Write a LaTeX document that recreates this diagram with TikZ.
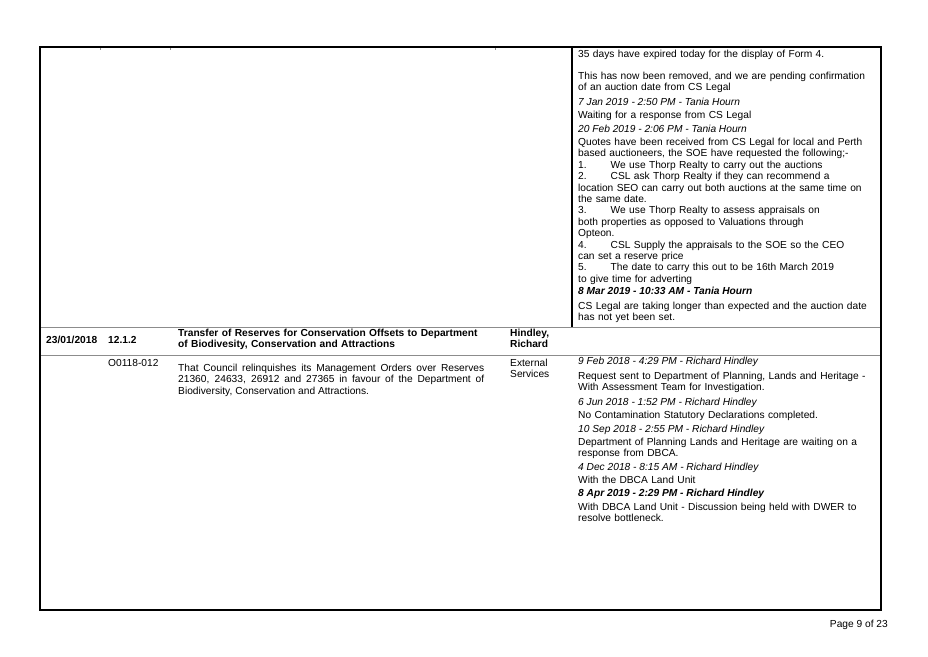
\documentclass[tikz,border=0pt]{standalone}
\usepackage{fontspec}
\setmainfont{Liberation Sans}
\newcommand\cellfont{\fontsize{10.2}{11.4}\selectfont\hyphenpenalty=10000\exhyphenpenalty=10000}
\begin{document}
\begin{tikzpicture}[x=1pt,y=-1pt,
	cell/.style={anchor=north west,inner sep=0pt,align=left,font=\cellfont},
	wide/.style={cell,text width=296pt},
	stamp/.style={cell,font=\cellfont\itshape},
	rule/.style={draw=black!45,line width=0.5pt}]
	\useasboundingbox (0,0) rectangle (928,656);
	% table frame and row rules
	\draw[rule] (40,327) -- (881,327) (40,355) -- (881,355);
	\draw[rule] (100,47) -- (100,50) (170,47) -- (170,50) (495,47) -- (495,50);
	\draw[line width=1.2pt] (572,47) -- (572,327);
	\draw[line width=1.2pt] (40,47) rectangle (881,610);
	% first row, notes column
	\node[wide] (n1) at (578,50) {35 days have expired today for the display of Form 4.};
	\node[wide] (n2) at (578,72) {This has now been removed, and we are pending confirmation of an auction date from CS Legal};
	\node[stamp] (s1) at (578,98) {7 Jan 2019 - 2:50 PM - Tania Hourn};
	\node[wide] (n3) at (578,111) {Waiting for a response from CS Legal};
	\node[stamp] (s2) at (578,125) {20 Feb 2019 - 2:06 PM - Tania Hourn};
	\node[wide] (n4) at (578,138) {Quotes have been received from CS Legal for local and Perth based auctioneers, the SOE have requested the following;-\\
		1.\hspace{24pt}We use Thorp Realty to carry out the auctions\\
		2.\hspace{24pt}CSL ask Thorp Realty if they can recommend a\\
		location SEO can carry out both auctions at the same time on the same date.\\
		3.\hspace{24pt}We use Thorp Realty to assess appraisals on\\
		both properties as opposed to Valuations through\\
		Opteon.\\
		4.\hspace{24pt}CSL Supply the appraisals to the SOE so the CEO\\
		can set a reserve price\\
		5.\hspace{24pt}The date to carry this out to be 16th March 2019\\
		to give time for adverting};
	\node[stamp,font=\cellfont\bfseries\itshape] (s3) at (578,287) {8 Mar 2019 - 10:33 AM - Tania Hourn};
	\node[wide] (n5) at (578,302) {CS Legal are taking longer than expected and the auction date has not yet been set.};
	% second row, item header
	\node[cell,font=\cellfont\bfseries] (date) at (46,336) {23/01/2018};
	\node[cell,font=\cellfont\bfseries] (item) at (108,336) {12.1.2};
	\node[cell,font=\cellfont\bfseries,text width=310pt] (title) at (178,329) {Transfer of Reserves for Conservation Offsets to Department of Biodivesity, Conservation and Attractions};
	\node[cell,font=\cellfont\bfseries] (officer) at (510,329) {Hindley,\\Richard};
	% third row, resolution and notes
	\node[cell] (ref) at (108,359) {O0118-012};
	\node[cell,text width=306pt,align=justify] (motion) at (178,364) {That Council relinquishes its Management Orders over Reserves 21360, 24633, 26912 and 27365 in favour of the Department of Biodiversity, Conservation and Attractions.};
	\node[cell] (dept) at (510,359) {External\\Services};
	\node[stamp] (t1) at (578,357) {9 Feb 2018 - 4:29 PM - Richard Hindley};
	\node[wide] (m1) at (578,372) {Request sent to Department of Planning, Lands and Heritage - With Assessment Team for Investigation.};
	\node[stamp] (t2) at (578,398) {6 Jun 2018 - 1:52 PM - Richard Hindley};
	\node[wide] (m2) at (578,411) {No Contamination Statutory Declarations completed.};
	\node[stamp] (t3) at (578,425) {10 Sep 2018 - 2:55 PM - Richard Hindley};
	\node[wide] (m3) at (578,438) {Department of Planning Lands and Heritage are waiting on a response from DBCA.};
	\node[stamp] (t4) at (578,463) {4 Dec 2018 - 8:15 AM - Richard Hindley};
	\node[wide] (m4) at (578,476) {With the DBCA Land Unit};
	\node[stamp,font=\cellfont\bfseries\itshape] (t5) at (578,489) {8 Apr 2019 - 2:29 PM - Richard Hindley};
	\node[wide] (m5) at (578,503) {With DBCA Land Unit - Discussion being held with DWER to resolve bottleneck.};
	% footer
	\node[anchor=east,inner sep=0pt,font=\fontsize{10.2}{11}\selectfont] (page) at (888,625) {Page 9 of 23};
\end{tikzpicture}
\end{document}
